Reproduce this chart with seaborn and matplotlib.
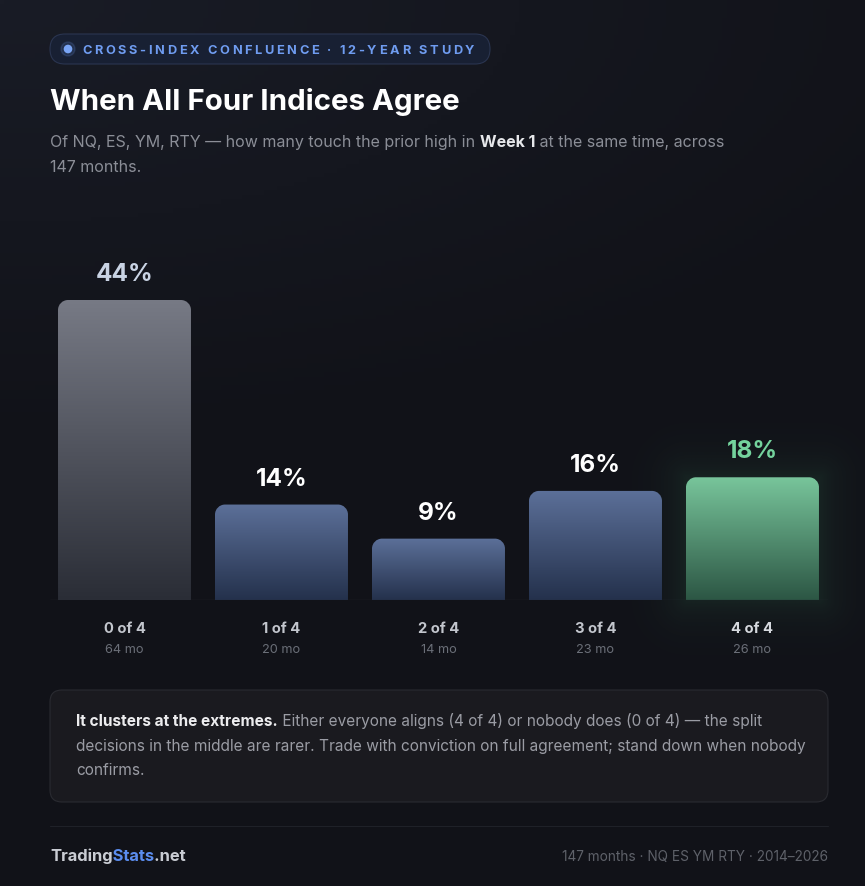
import numpy as np
import pandas as pd
import matplotlib
matplotlib.use("Agg")
import matplotlib.pyplot as plt
import seaborn as sns
from matplotlib.path import Path
from matplotlib.patches import PathPatch, FancyBboxPatch, Circle
from matplotlib.transforms import Bbox
from matplotlib.colors import to_rgb

# data
categories = ["0 of 4", "1 of 4", "2 of 4", "3 of 4", "4 of 4"]
pct = [44, 14, 9, 16, 18]
months = [64, 20, 14, 23, 26]
pct_labels = [f"{v}%" for v in pct]
month_labels = [f"{m} mo" for m in months]

# bar gradients (top, bottom) and label colours
bar_grad = [("#777a85", "#2a2d36"), ("#5c7099", "#24314c"), ("#5c7099", "#24314c"),
            ("#5c7099", "#24314c"), ("#78c59b", "#2c5644")]
pct_colors = ["#c9d3e4", "#ffffff", "#ffffff", "#ffffff", "#74d39d"]
cat_colors = ["#c3c6cd", "#c3c6cd", "#c3c6cd", "#c3c6cd", "#d6d9de"]

sns.set_theme(style="dark")
plt.rcParams["font.family"] = ["Inter", "DejaVu Sans"]

W, H = 865, 886
PT = 0.72  # px -> pt at dpi 100
fig = plt.figure(figsize=(W / 100, H / 100), dpi=100)
fig.patch.set_facecolor("#111218")

# pixel canvas for the page
bg = fig.add_axes([0, 0, 1, 1])
bg.set_xlim(0, W)
bg.set_ylim(H, 0)
bg.axis("off")

# soft background gradient (lighter to the top-left)
yy, xx = np.mgrid[0:H:200j, 0:W:200j]
t = np.clip(1 - np.sqrt((xx / (1.2 * W)) ** 2 + (yy / (0.5 * H)) ** 2), 0, 1)
base, tl = np.array(to_rgb("#111218")), np.array(to_rgb("#191c26"))
img = base + (tl - base) * t[..., None]
bg.imshow(img, extent=(0, W, H, 0), aspect="auto", zorder=0)

renderer = fig.canvas.get_renderer()


def _w(s, size, weight):
    tt = bg.text(0, 0, s, fontsize=size, fontweight=weight)
    w = tt.get_window_extent(renderer).width
    tt.remove()
    return w


def adv(s, size, weight="normal"):
    # pen advance of s, with marker glyphs on both sides to keep spaces
    return _w("|" + s + "|", size, weight) - _w("||", size, weight)


def fit_size(segments, target, s0=11):
    w = sum(adv(s, s0, wt) for s, _, wt in segments)
    return s0 * target / w


def rich(x, y, segments, size):
    for s, color, wt in segments:
        bg.text(x, y, s, fontsize=size, color=color, fontweight=wt, va="baseline", zorder=5)
        x += adv(s, size, wt)


# badge
bg.add_patch(FancyBboxPatch((50, 34), 440, 30, boxstyle="round,pad=0,rounding_size=15",
                            fc="#182033", ec="#2a3550", lw=0.8, zorder=2))
bg.add_patch(Circle((68, 49), 7, color="#6f9cf0", alpha=0.15, zorder=3))
bg.add_patch(Circle((68, 49), 3.6, color="#7aa5f5", zorder=4))
badge = "CROSS-INDEX CONFLUENCE · 12-YEAR STUDY"
bsize = 9.2
nat = adv(badge, bsize, "bold")
track = (392 - nat) / (len(badge) - 1)
for i, ch in enumerate(badge):
    off = adv(badge[:i], bsize, "bold") if i else 0
    bg.text(82 + off + i * track, 54, ch, fontsize=bsize, fontweight="bold",
            color="#6f9cf0", va="baseline", zorder=5)

# title
tsize = fit_size([("When All Four Indices Agree", None, "bold")], 411)
bg.text(50, 110, "When All Four Indices Agree", fontsize=tsize, fontweight="bold",
        color="#ffffff", va="baseline", zorder=5)

# subtitle
sub1 = [("Of NQ, ES, YM, RTY — how many touch the prior high in ", "#8b8e97", "normal"),
        ("Week 1", "#e6e7ea", "bold"),
        (" at the same time, across", "#8b8e97", "normal")]
ssize = fit_size(sub1, 672)
rich(50, 147, sub1, ssize)
rich(50, 172, [("147 months.", "#8b8e97", "normal")], ssize)

# chart axes
ax = fig.add_axes([50 / W, (H - 600) / H, 778 / W, 350 / H])
df = pd.DataFrame({"category": categories, "pct": pct})
sns.barplot(data=df, x="category", y="pct", ax=ax, color="#445", width=0.847, saturation=1)
ax.set_facecolor("none")
xlim = (-0.4745, 4.481)
ylim = (0, 350 / (300 / 44))
ax.set_xlim(*xlim)
ax.set_ylim(*ylim)
for s in ax.spines.values():
    s.set_visible(False)
ax.set_xticks([])
ax.set_yticks([])
ax.set_xlabel("")
ax.set_ylabel("")
ax.grid(False)

ppx = 778 / (xlim[1] - xlim[0])
ppy = 350 / (ylim[1] - ylim[0])
rx, ry = 10 / ppx, 10 / ppy
k = 0.5523


def rounded_top(x0, x1, y0, y1):
    verts = [(x0, y0), (x0, y1 - ry),
             (x0, y1 - ry + k * ry), (x0 + rx - k * rx, y1), (x0 + rx, y1),
             (x1 - rx, y1),
             (x1 - rx + k * rx, y1), (x1, y1 - ry + k * ry), (x1, y1 - ry),
             (x1, y0), (x0, y0)]
    codes = [Path.MOVETO, Path.LINETO,
             Path.CURVE4, Path.CURVE4, Path.CURVE4,
             Path.LINETO,
             Path.CURVE4, Path.CURVE4, Path.CURVE4,
             Path.LINETO, Path.CLOSEPOLY]
    return Path(verts, codes)


to_bg = ax.transData + bg.transData.inverted()
for i, p in enumerate(ax.patches):
    x0, w, h = p.get_x(), p.get_width(), p.get_height()
    p.set_visible(False)
    top, bot = (np.array(to_rgb(c)) for c in bar_grad[i])
    g = np.linspace(0, 1, 256)[:, None, None]
    grad = top + (bot - top) * g
    if i == 4:
        # soft green glow behind the last bar, in page pixels
        (gx0, gy1), (gx1, gy0) = to_bg.transform([(x0, h), (x0 + w, 0)])
        pad = 70
        X, Y = np.meshgrid(np.arange(gx0 - pad, gx1 + pad), np.arange(gy1 - pad, gy0 + pad))
        dx = np.maximum.reduce([gx0 - X, np.zeros_like(X), X - gx1])
        dy = np.maximum.reduce([gy1 - Y, np.zeros_like(Y), Y - gy0])
        d = np.sqrt(dx ** 2 + dy ** 2)
        glow = np.zeros(X.shape + (4,))
        glow[..., :3] = to_rgb("#3a8a5e")
        glow[..., 3] = 0.14 * np.exp(-d / 22)
        bg.imshow(glow, extent=(gx0 - pad, gx1 + pad, gy0 + pad, gy1 - pad),
                  aspect="auto", zorder=1, interpolation="bilinear")
    im = ax.imshow(grad, extent=(x0, x0 + w, 0, h), aspect="auto", origin="upper",
                   zorder=2, interpolation="bicubic")
    clip = PathPatch(rounded_top(x0, x0 + w, 0, h), transform=ax.transData,
                     fc="none", ec="none")
    ax.add_patch(clip)
    im.set_clip_path(clip)

ax.set_xlim(*xlim)
ax.set_ylim(*ylim)
ax.axhline(0, color="#2a2d36", lw=0.9, zorder=3)

for i, (v, lab) in enumerate(zip(pct, pct_labels)):
    ax.annotate(lab, xy=(i, v), xytext=(0, 19 * PT), textcoords="offset points",
                ha="center", va="baseline", fontsize=17.5, fontweight="bold",
                color=pct_colors[i], annotation_clip=False)
    ax.annotate(categories[i], xy=(i, 0), xytext=(0, -33 * PT), textcoords="offset points",
                ha="center", va="baseline", fontsize=10.6, fontweight="bold",
                color=cat_colors[i], annotation_clip=False)
    ax.annotate(month_labels[i], xy=(i, 0), xytext=(0, -53 * PT), textcoords="offset points",
                ha="center", va="baseline", fontsize=9.2, color="#6b6f78",
                annotation_clip=False)

# callout
bg.add_patch(FancyBboxPatch((50, 690), 778, 112, boxstyle="round,pad=0,rounding_size=12",
                            fc="#1a1a1f", ec="#2a2b31", lw=0.8, zorder=2))
c1 = [("It clusters at the extremes.", "#ececee", "bold"),
      (" Either everyone aligns (4 of 4) or nobody does (0 of 4) — the split", "#9a9ca4", "normal")]
c2 = [("decisions in the middle are rarer. Trade with conviction on full agreement; stand down when nobody",
       "#9a9ca4", "normal")]
c3 = [("confirms.", "#9a9ca4", "normal")]
csize = fit_size(c2, 725)
rich(76, 726, c1, csize)
rich(76, 751, c2, csize)
rich(76, 775, c3, csize)

# footer
bg.plot([50, 828], [825.5, 825.5], color="#1f2128", lw=0.8, zorder=2)
brand = ["Trading", "Stats", ".net"]
brand_colors = ["#c9ccd3", "#5b8def", "#c9ccd3"]
full = "".join(brand)
fsize = fit_size([(full, None, "bold")], 137)
# same full string drawn once per colour, each clipped to its own span, so glyphs line up
edges = [40]
for j in range(len(brand) - 1):
    edges.append(50 + adv("".join(brand[:j + 1]), fsize, "bold"))
edges.append(220)
for j, col in enumerate(brand_colors):
    tt = bg.text(50, 861, full, fontsize=fsize, fontweight="bold", color=col,
                 va="baseline", zorder=5)
    tt.set_clip_box(Bbox.from_extents(edges[j], H - 880, edges[j + 1], H - 835))
    tt.set_clip_on(True)
rtxt = "147 months · NQ ES YM RTY · 2014–2026"
rsize = fit_size([(rtxt, None, "normal")], 266)
bg.text(828, 861, rtxt, fontsize=rsize, color="#5e6169", ha="right", va="baseline", zorder=5)

fig.savefig("out.png", dpi=100, facecolor=fig.get_facecolor())
